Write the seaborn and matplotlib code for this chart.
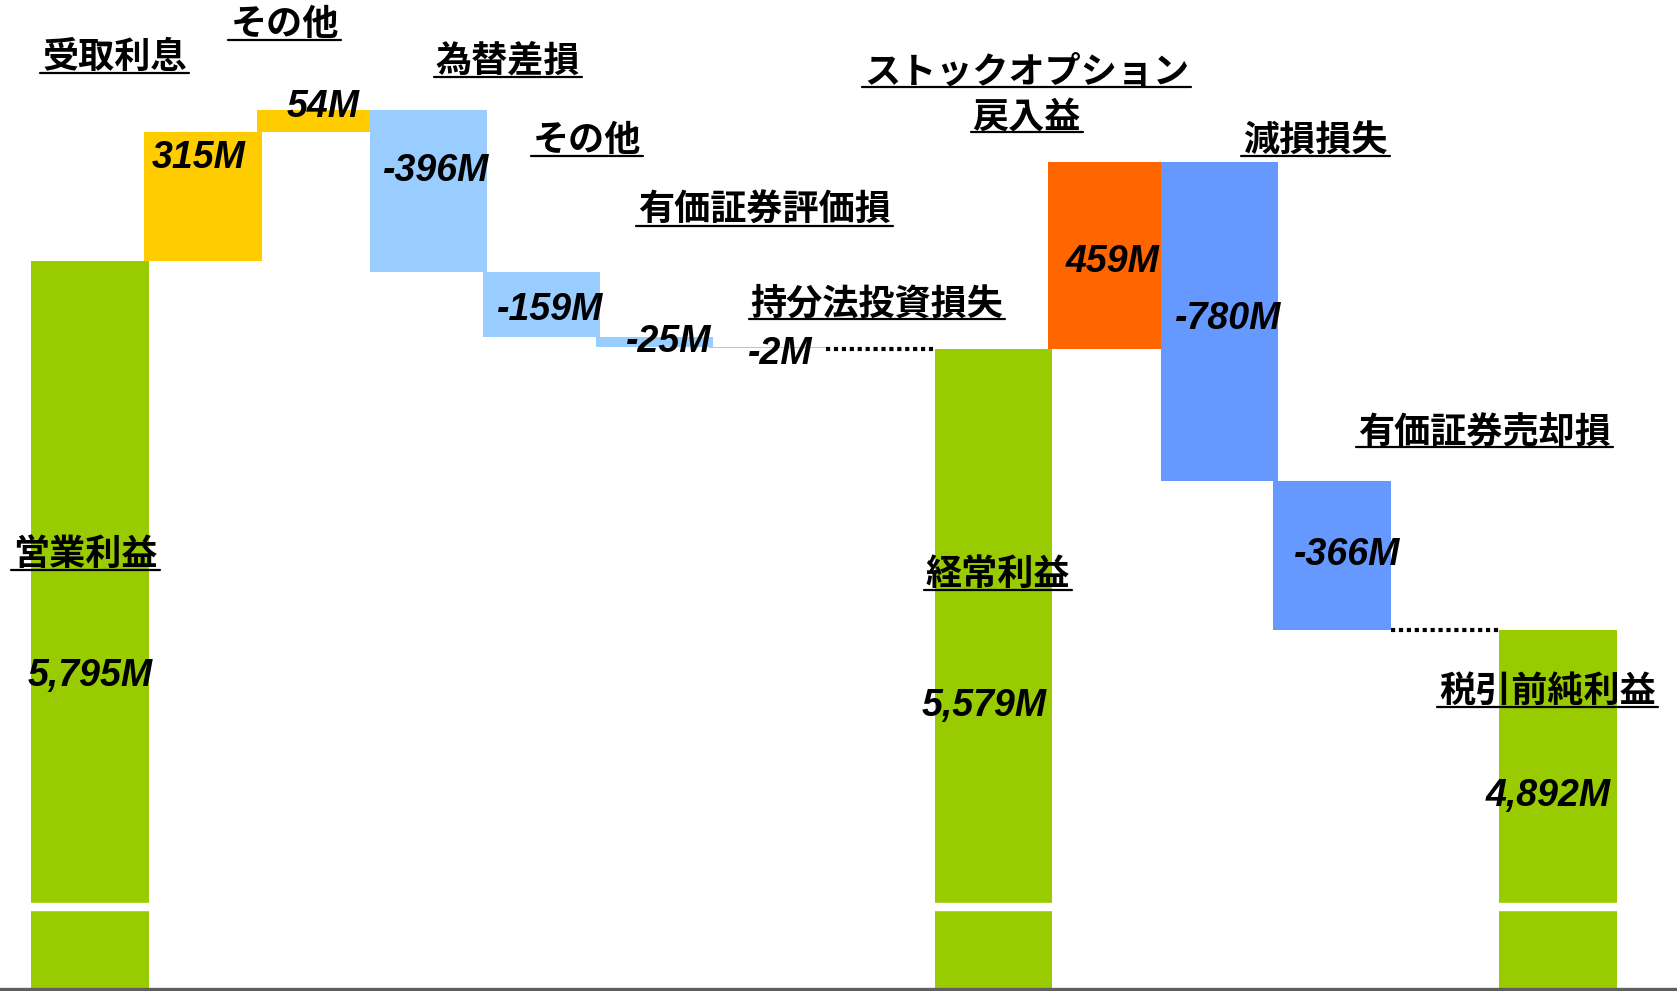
import matplotlib.pyplot as plt
import pandas as pd
import seaborn as sns
from matplotlib.lines import Line2D

# waterfall steps, left to right (totals start from zero)
LABELS = ["営業利益", "受取利息", "その他", "為替差損", "その他", "有価証券評価損",
          "持分法投資損失", "経常利益", "ストックオプション\n戻入益", "減損損失",
          "有価証券売却損", "税引前純利益"]
VALUES = [5795, 315, 54, -396, -159, -25, -2, 5579, 459, -780, -366, 4892]
IS_TOTAL = [True, False, False, False, False, False, False,
            True, False, False, False, True]
SLOTS = [0, 1, 2, 3, 4, 5, 6, 8, 9, 10, 11, 13]
COLORS = ["#99CC00", "#FFCC00", "#FFCC00", "#99CCFF", "#99CCFF", "#99CCFF",
          "#99CCFF", "#99CC00", "#FF6600", "#6699FF", "#6699FF", "#99CC00"]

# label placement, in pixels of a 1568x927 frame
NAME_XY = [(80, 520), (107, 55), (266, 24), (475, 58), (549, 132), (715, 198),
           (820, 285), (933, 538), (960, 68), (1230, 132), (1388, 405), (1447, 648)]
VALUE_XY = [(84, 632), (186, 148), (302, 100), (408, 160), (514, 290), (625, 320),
            (730, 331), (920, 660), (1040, 245), (1148, 298), (1260, 519), (1448, 745)]
FRAME_W, FRAME_H = 1568, 927
LINE_GAP = 42

# slot 0 centre and slot spacing, in frame pixels
SLOT_X0, SLOT_DX = 84, 105.6
Y_RANGE = (4015, 6433)
BREAK = (4208, 4224)
BAR_WIDTH = 1.04

sns.set_theme(style="white")
plt.rcParams["font.family"] = ["Liberation Sans", "Noto Sans CJK JP"]

# floating bar bottoms / heights
level = 0
bottoms, heights = [], []
for v, total in zip(VALUES, IS_TOTAL):
    if total:
        bottoms.append(0)
        heights.append(v)
        level = v
    else:
        new = level + v
        bottoms.append(min(level, new))
        heights.append(abs(v))
        level = new

df = pd.DataFrame({"slot": SLOTS, "height": heights})

fig = plt.figure(figsize=(16.77, 9.91), dpi=100)
ax = fig.add_axes([0, 2 / FRAME_H, 1, 1 - 2 / FRAME_H])

sns.barplot(data=df, x="slot", y="height", order=list(range(max(SLOTS) + 1)),
            bottom=bottoms, width=BAR_WIDTH, errorbar=None, color="#99CC00",
            linewidth=0, ax=ax)
for patch, c in zip(ax.patches, COLORS):
    patch.set_facecolor(c)
    patch.set_edgecolor("none")

# dotted connectors into the subtotals
for i in range(1, len(SLOTS)):
    if IS_TOTAL[i] and SLOTS[i] - SLOTS[i - 1] > 1:
        ax.hlines(VALUES[i], SLOTS[i - 1] + BAR_WIDTH / 2, SLOTS[i] - BAR_WIDTH / 2,
                  colors="black", linestyles=(0, (1, 0.9)), linewidth=3, zorder=4)

# axis break across the tall bars
ax.axhspan(*BREAK, color="white", zorder=3)

ax.set_ylim(*Y_RANGE)
ax.set_xlim(-SLOT_X0 / SLOT_DX, (FRAME_W - SLOT_X0) / SLOT_DX)
ax.set_xticks([])
ax.set_yticks([])
ax.set_xlabel("")
ax.set_ylabel("")
for side in ["left", "top", "right"]:
    ax.spines[side].set_visible(False)
ax.spines["bottom"].set_color("#5f5f5f")
ax.spines["bottom"].set_linewidth(2.4)


def frame_pos(x, y):
    return x / FRAME_W, 1 - y / FRAME_H


name_texts = []
for name, (x, y) in zip(LABELS, NAME_XY):
    for k, line in enumerate(name.split("\n")):
        fx, fy = frame_pos(x, y + k * LINE_GAP)
        t = fig.text(fx, fy, line, ha="center", va="center", fontsize=26,
                     fontweight="bold", fontstyle="italic", color="black", zorder=6)
        name_texts.append(t)

for v, (x, y) in zip(VALUES, VALUE_XY):
    fx, fy = frame_pos(x, y)
    fig.text(fx, fy, f"{v:,}M", ha="center", va="center", fontsize=27,
             fontweight="bold", fontstyle="italic", color="black", zorder=6)

# underline the step names
fig.canvas.draw()
renderer = fig.canvas.get_renderer()
W, H = fig.bbox.width, fig.bbox.height
for t in name_texts:
    bb = t.get_window_extent(renderer)
    uy = (bb.y0 + 3) / H
    fig.add_artist(Line2D([(bb.x0 - 2) / W, (bb.x1 + 2) / W], [uy, uy],
                          color="black", linewidth=1.6))

fig.savefig("out.png", dpi=100, facecolor="white")
